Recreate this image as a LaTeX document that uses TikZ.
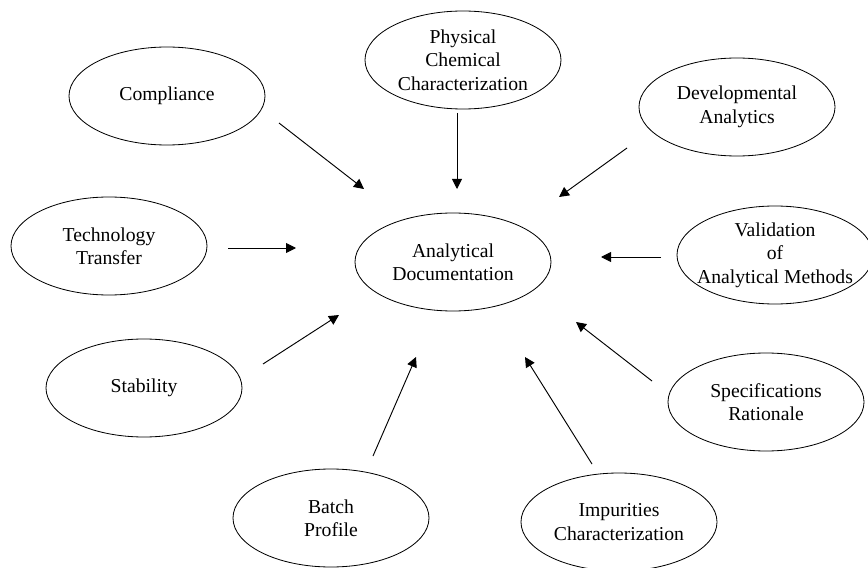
\documentclass[tikz,border=0pt]{standalone}
\usepackage{fontspec}
\setmainfont{Liberation Serif}
\usetikzlibrary{shapes.geometric,arrows.meta}

\begin{document}
\begin{tikzpicture}[x=0.03cm,y=-0.03cm,
  topic/.style={draw,ellipse,line width=0.7pt,minimum width=5.88cm,minimum height=2.94cm,
    inner xsep=-0.4cm,inner ysep=-0.2cm,align=center,font=\fontsize{16.8}{20}\selectfont},
  feed/.style={-{Triangle[length=0.3cm,width=0.3cm]},line width=0.8pt}]
\path[use as bounding box] (0,0) rectangle (868,568);
\node[topic] (doc) at (453,262) {Analytical\\Documentation};
\node[topic] (comp) at (167,96) {Compliance};
\node[topic] (phys) at (463,60) {Physical\\Chemical\\Characterization};
\node[topic] (dev) at (737,107) {Developmental\\Analytics};
\node[topic] (tech) at (109,246) {Technology\\Transfer};
\node[topic] (valid) at (775,255) {Validation\\of\\Analytical Methods};
\node[topic] (stab) at (144,388) {Stability};
\node[topic] (spec) at (766,402) {Specifications\\Rationale};
\node[topic] (batch) at (331,518) {Batch\\Profile};
\node[topic] (impur) at (619,522) {Impurities\\Characterization};

\coordinate (comp-out) at (279,123);
\coordinate (comp-in) at (364,189);
\coordinate (phys-out) at (457,113);
\coordinate (phys-in) at (457,189);
\coordinate (dev-out) at (627,148);
\coordinate (dev-in) at (559,197);
\coordinate (tech-out) at (228,248);
\coordinate (tech-in) at (296,248);
\coordinate (valid-out) at (661,257);
\coordinate (valid-in) at (601,257);
\coordinate (stab-out) at (263,364);
\coordinate (stab-in) at (339,315);
\coordinate (spec-out) at (652,381);
\coordinate (spec-in) at (576,322);
\coordinate (batch-out) at (373,456);
\coordinate (batch-in) at (416,357);
\coordinate (impur-out) at (592,464);
\coordinate (impur-in) at (525,357);

\draw[feed] (comp-out) -- (comp-in);
\draw[feed] (phys-out) -- (phys-in);
\draw[feed] (dev-out) -- (dev-in);
\draw[feed] (tech-out) -- (tech-in);
\draw[feed] (valid-out) -- (valid-in);
\draw[feed] (stab-out) -- (stab-in);
\draw[feed] (spec-out) -- (spec-in);
\draw[feed] (batch-out) -- (batch-in);
\draw[feed] (impur-out) -- (impur-in);
\end{tikzpicture}
\end{document}
